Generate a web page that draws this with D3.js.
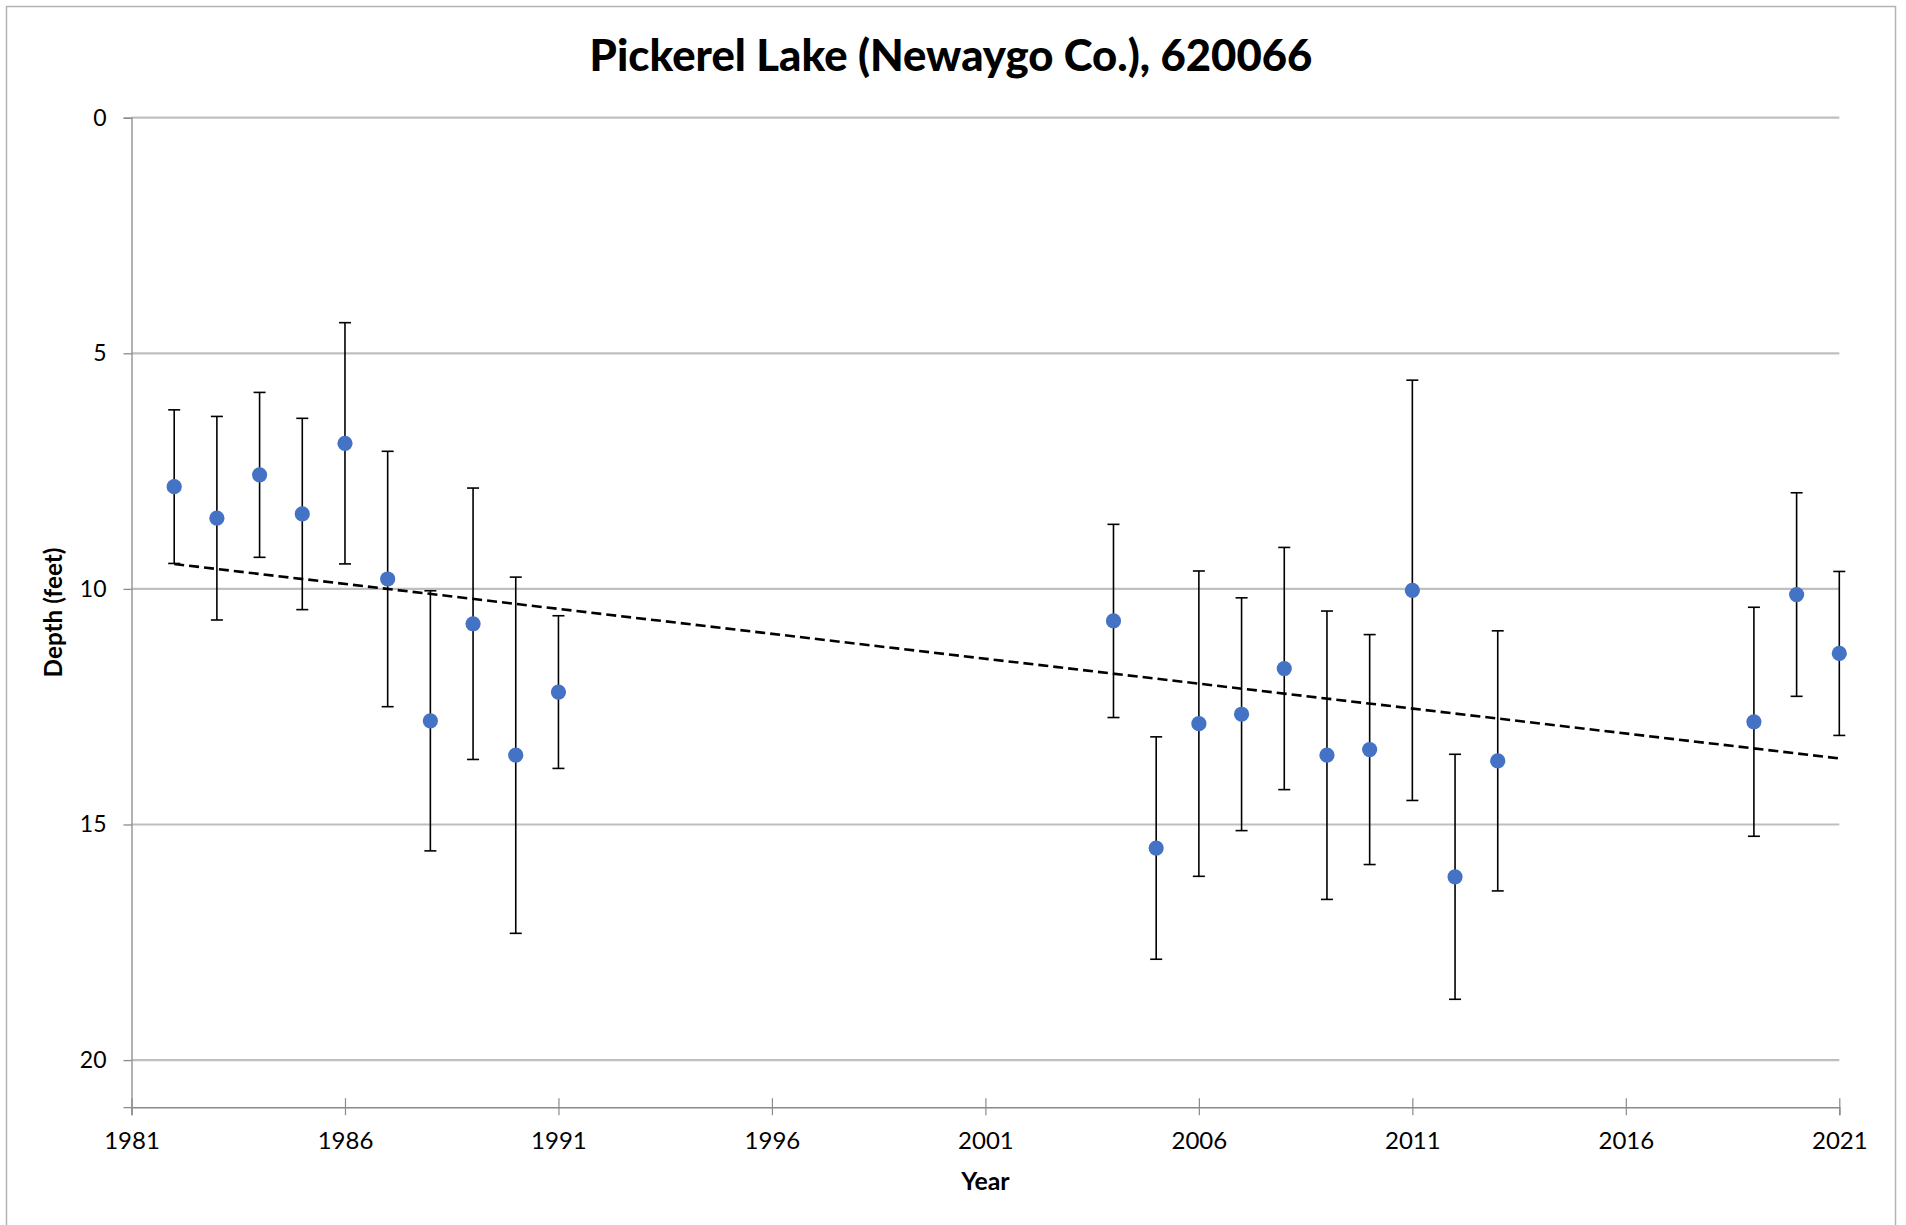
<!DOCTYPE html>
<html>
<head>
<meta charset="utf-8">
<script src="https://cdn.jsdelivr.net/npm/d3@7"></script>
<style>
  html, body { margin: 0; padding: 0; background: #fff; }
  svg { display: block; }
  text { font-family: Lato, "Open Sans", "Liberation Sans", sans-serif; }
</style>
</head>
<body>
<svg id="chart" width="1906" height="1225"></svg>
<script>
// ---- data ----
const title = "Pickerel Lake (Newaygo Co.), 620066";
const xLabel = "Year";
const yLabel = "Depth (feet)";
const years = [1982, 1983, 1984, 1985, 1986, 1987, 1988, 1989, 1990, 1991,
               2004, 2005, 2006, 2007, 2008, 2009, 2010, 2011, 2012, 2013,
               2019, 2020, 2021];
const depth = [7.83, 8.50, 7.58, 8.41, 6.91, 9.79, 12.80, 10.74, 13.53, 12.19,
               10.68, 15.50, 12.86, 12.66, 11.69, 13.53, 13.41, 10.03, 16.11, 13.65,
               12.82, 10.12, 11.37];
const errs  = [1.63, 2.16, 1.75, 2.03, 2.56, 2.71, 2.76, 2.88, 3.78, 1.62,
               2.05, 2.36, 3.24, 2.47, 2.57, 3.06, 2.44, 4.46, 2.60, 2.76,
               2.43, 2.16, 1.74];
const xTicks = [1981, 1986, 1991, 1996, 2001, 2006, 2011, 2016, 2021];
const yTicks = [0, 5, 10, 15, 20];
const xDomain = [1981, 2021];
const yDomain = [0, 21];

// ---- layout ----
const W = 1906, H = 1225;
const L = 131.5, R = 1839.3, T = 117.7, B = 1107.2;

const svg = d3.select("#chart");
const x = d3.scaleLinear().domain(xDomain).range([L, R]);
const y = d3.scaleLinear().domain(yDomain).range([T, B]);

function fit(sel, target) {
  const w = sel.node().getComputedTextLength();
  const fs = parseFloat(sel.attr("font-size"));
  sel.attr("font-size", fs * target / w);
}

// outer border
svg.append("rect").attr("x", 6.5).attr("y", 6.5).attr("width", 1889).attr("height", 1240)
  .attr("fill", "#fff").attr("stroke", "#b4b4b4").attr("stroke-width", 1.5);

// gridlines
svg.append("g").selectAll("line").data(yTicks).join("line")
  .attr("x1", L).attr("x2", R).attr("y1", d => y(d)).attr("y2", d => y(d))
  .attr("stroke", "#bfbfbf").attr("stroke-width", 2.2);

// y axis
const yAxis = svg.append("g").attr("transform", `translate(${L},0)`)
  .call(d3.axisLeft(y).tickValues(yTicks).tickSize(8).tickPadding(17).tickFormat(d3.format("d")));
yAxis.select(".domain").attr("stroke", "#8a8a8a").attr("stroke-width", 1.3);
yAxis.selectAll(".tick line").attr("stroke", "#8a8a8a").attr("stroke-width", 1.3);
yAxis.selectAll(".tick text").attr("font-size", 23).attr("fill", "#000")
  .style("font-family", "Lato, 'Open Sans', sans-serif");

// x axis
const xAxis = svg.append("g").attr("transform", `translate(0,${B})`)
  .call(d3.axisBottom(x).tickValues(xTicks).tickSize(8).tickPadding(17).tickFormat(d3.format("d")));
xAxis.select(".domain").attr("stroke", "#8a8a8a").attr("stroke-width", 1.5);
xAxis.selectAll(".tick line").attr("y1", -9).attr("y2", 8)
  .attr("stroke", "#8a8a8a").attr("stroke-width", 1.2);
xAxis.selectAll(".tick text").attr("font-size", 24).attr("fill", "#000")
  .style("font-family", "Lato, 'Open Sans', sans-serif");

// linear regression trend line (computed from the data)
const mx = d3.mean(years), my = d3.mean(depth);
let sxy = 0, sxx = 0;
years.forEach((yr, i) => { sxy += (yr - mx) * (depth[i] - my); sxx += (yr - mx) * (yr - mx); });
const slope = sxy / sxx, icpt = my - slope * mx;
const x0 = d3.min(years), x1 = d3.max(years);
svg.append("line")
  .attr("x1", x(x0)).attr("y1", y(icpt + slope * x0))
  .attr("x2", x(x1)).attr("y2", y(icpt + slope * x1))
  .attr("stroke", "#000").attr("stroke-width", 2.6).attr("stroke-dasharray", "10,5");

// error bars
const pts = years.map((yr, i) => ({ yr, d: depth[i], e: errs[i] }));
const eb = svg.append("g").attr("stroke", "#000").attr("stroke-width", 1.6);
eb.selectAll("line.v").data(pts).join("line").attr("class", "v")
  .attr("x1", p => x(p.yr)).attr("x2", p => x(p.yr))
  .attr("y1", p => y(p.d - p.e)).attr("y2", p => y(p.d + p.e));
eb.selectAll("line.t").data(pts).join("line").attr("class", "t")
  .attr("x1", p => x(p.yr) - 6).attr("x2", p => x(p.yr) + 6)
  .attr("y1", p => y(p.d - p.e)).attr("y2", p => y(p.d - p.e));
eb.selectAll("line.b").data(pts).join("line").attr("class", "b")
  .attr("x1", p => x(p.yr) - 6).attr("x2", p => x(p.yr) + 6)
  .attr("y1", p => y(p.d + p.e)).attr("y2", p => y(p.d + p.e));

// markers
svg.append("g").selectAll("circle").data(pts).join("circle")
  .attr("cx", p => x(p.yr)).attr("cy", p => y(p.d)).attr("r", 7.6)
  .attr("fill", "#4472C4");

// title
const tt = svg.append("text").text(title)
  .attr("x", 951).attr("y", 71).attr("text-anchor", "middle")
  .attr("font-weight", 900).attr("font-size", 40).attr("fill", "#000");
fit(tt, 723);

// axis titles
const xt = svg.append("text").text(xLabel)
  .attr("x", (L + R) / 2).attr("y", 1190).attr("text-anchor", "middle")
  .attr("font-weight", "bold").attr("font-size", 22).attr("fill", "#000");
fit(xt, 48.5);

const yt = svg.append("text").text(yLabel)
  .attr("transform", `translate(62,${(T + B) / 2}) rotate(-90)`)
  .attr("text-anchor", "middle")
  .attr("font-weight", "bold").attr("font-size", 22).attr("fill", "#000");
fit(yt, 130);
</script>
</body>
</html>
